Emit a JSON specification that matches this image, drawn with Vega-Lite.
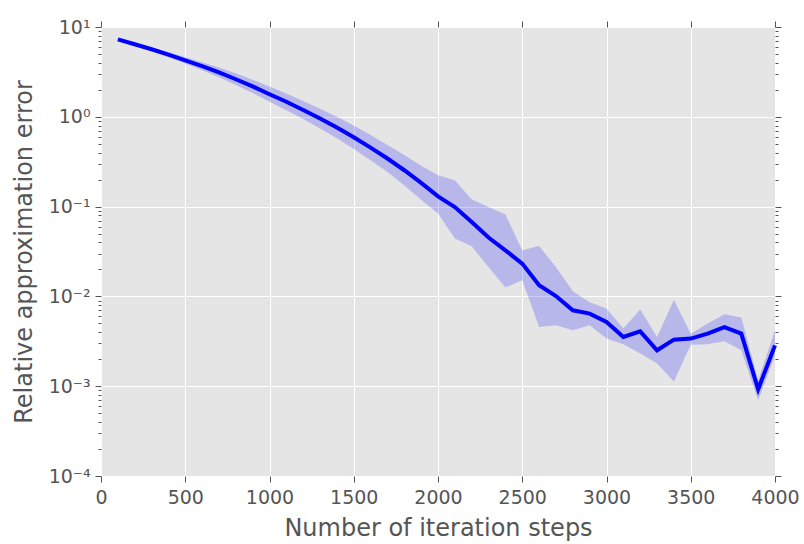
{
  "$schema": "https://vega.github.io/schema/vega-lite/v6.json",
  "width": 674,
  "height": 449,
  "autosize": {"type": "none"},
  "padding": {"left": 101, "top": 27, "right": 29, "bottom": 68},
  "background": "white",
  "config": {
    "view": {"fill": "#E5E5E5", "stroke": null},
    "axis": {
      "domain": false,
      "tickColor": "#555555",
      "tickWidth": 1,
      "labelColor": "#555555",
      "titleColor": "#555555",
      "labelFont": "DejaVu Sans",
      "titleFont": "DejaVu Sans",
      "labelFontSize": 19,
      "titleFontSize": 24,
      "titleFontWeight": "normal",
      "gridColor": "white",
      "gridWidth": 1,
      "labelFlush": false,
      "labelOverlap": false
    }
  },
  "data": {
    "values": [
      {"step": 100, "err": 7.29, "lo": 7.13, "hi": 7.46},
      {"step": 200, "err": 6.43, "lo": 6.21, "hi": 6.65},
      {"step": 300, "err": 5.65, "lo": 5.40, "hi": 5.92},
      {"step": 400, "err": 4.92, "lo": 4.59, "hi": 5.27},
      {"step": 500, "err": 4.26, "lo": 3.93, "hi": 4.61},
      {"step": 600, "err": 3.66, "lo": 3.30, "hi": 4.06},
      {"step": 700, "err": 3.12, "lo": 2.75, "hi": 3.54},
      {"step": 800, "err": 2.62, "lo": 2.26, "hi": 3.05},
      {"step": 900, "err": 2.18, "lo": 1.84, "hi": 2.59},
      {"step": 1000, "err": 1.78, "lo": 1.47, "hi": 2.17},
      {"step": 1100, "err": 1.47, "lo": 1.18, "hi": 1.82},
      {"step": 1200, "err": 1.19, "lo": 0.946, "hi": 1.50},
      {"step": 1300, "err": 0.957, "lo": 0.743, "hi": 1.23},
      {"step": 1400, "err": 0.760, "lo": 0.577, "hi": 1.00},
      {"step": 1500, "err": 0.592, "lo": 0.439, "hi": 0.798},
      {"step": 1600, "err": 0.454, "lo": 0.329, "hi": 0.627},
      {"step": 1700, "err": 0.343, "lo": 0.243, "hi": 0.484},
      {"step": 1800, "err": 0.254, "lo": 0.172, "hi": 0.376},
      {"step": 1900, "err": 0.184, "lo": 0.119, "hi": 0.285},
      {"step": 2000, "err": 0.130, "lo": 0.0836, "hi": 0.223},
      {"step": 2100, "err": 0.099, "lo": 0.0440, "hi": 0.196},
      {"step": 2200, "err": 0.0675, "lo": 0.0361, "hi": 0.120},
      {"step": 2300, "err": 0.0452, "lo": 0.0212, "hi": 0.0990},
      {"step": 2400, "err": 0.0326, "lo": 0.01253, "hi": 0.0815},
      {"step": 2500, "err": 0.0232, "lo": 0.0151, "hi": 0.0326},
      {"step": 2600, "err": 0.0133, "lo": 0.00456, "hi": 0.0364},
      {"step": 2700, "err": 0.0101, "lo": 0.00476, "hi": 0.0212},
      {"step": 2800, "err": 0.0070, "lo": 0.00419, "hi": 0.0114},
      {"step": 2900, "err": 0.00643, "lo": 0.00476, "hi": 0.00859},
      {"step": 3000, "err": 0.00519, "lo": 0.00339, "hi": 0.00731},
      {"step": 3100, "err": 0.00353, "lo": 0.00293, "hi": 0.00438},
      {"step": 3200, "err": 0.00408, "lo": 0.00231, "hi": 0.00713},
      {"step": 3300, "err": 0.00251, "lo": 0.00179, "hi": 0.00353},
      {"step": 3400, "err": 0.00330, "lo": 0.00113, "hi": 0.00920},
      {"step": 3500, "err": 0.00339, "lo": 0.00290, "hi": 0.00385},
      {"step": 3600, "err": 0.00385, "lo": 0.00293, "hi": 0.00498},
      {"step": 3700, "err": 0.00456, "lo": 0.00316, "hi": 0.00632},
      {"step": 3800, "err": 0.00385, "lo": 0.00251, "hi": 0.00581},
      {"step": 3900, "err": 0.000923, "lo": 0.000697, "hi": 0.00116},
      {"step": 4000, "err": 0.00285, "lo": 0.00221, "hi": 0.00419}
    ]
  },
  "layer": [
    {
      "mark": {"type": "area", "color": "#0000FF", "opacity": 0.2},
      "encoding": {
        "x": {
          "field": "step", "type": "quantitative",
          "scale": {"domain": [0, 4000], "nice": false, "zero": false},
          "axis": {
            "orient": "bottom",
            "values": [0, 500, 1000, 1500, 2000, 2500, 3000, 3500, 4000],
            "format": "d",
            "title": "Number of iteration steps",
            "tickSize": 6,
            "labelPadding": 6,
            "titlePadding": 9,
            "grid": true
          }
        },
        "y": {
          "field": "lo", "type": "quantitative",
          "scale": {"type": "log", "domain": [0.0001, 10], "nice": false},
          "axis": {
            "orient": "left",
            "title": "Relative approximation error",
            "values": [0.0001, 0.0002, 0.0003, 0.0004, 0.0005, 0.0006, 0.0007, 0.0008, 0.0009,
                       0.001, 0.002, 0.003, 0.004, 0.005, 0.006, 0.007, 0.008, 0.009,
                       0.01, 0.02, 0.03, 0.04, 0.05, 0.06, 0.07, 0.08, 0.09,
                       0.1, 0.2, 0.3, 0.4, 0.5, 0.6, 0.7, 0.8, 0.9,
                       1, 2, 3, 4, 5, 6, 7, 8, 9, 10],
            "labelExpr": "abs(log(datum.value)/LN10 - round(log(datum.value)/LN10)) < 0.001 ? {'1':'10¹','0':'10⁰','-1':'10⁻¹','-2':'10⁻²','-3':'10⁻³','-4':'10⁻⁴'}['' + round(log(datum.value)/LN10)] : ''",
            "tickSize": {"condition": {"test": "abs(log(datum.value)/LN10 - round(log(datum.value)/LN10)) < 0.001", "value": 6}, "value": 3},
            "gridOpacity": {"condition": {"test": "abs(log(datum.value)/LN10 - round(log(datum.value)/LN10)) < 0.001", "value": 1}, "value": 0},
            "grid": true,
            "labelPadding": 5,
            "titlePadding": 12
          }
        },
        "y2": {"field": "hi"}
      }
    },
    {
      "mark": {"type": "line", "color": "#0000FF", "strokeWidth": 4},
      "encoding": {
        "x": {
          "field": "step", "type": "quantitative",
          "scale": {"domain": [0, 4000], "nice": false, "zero": false},
          "axis": {
            "orient": "top",
            "values": [0, 500, 1000, 1500, 2000, 2500, 3000, 3500, 4000],
            "labels": false,
            "title": null,
            "tickSize": 6,
            "grid": false
          }
        },
        "y": {
          "field": "err", "type": "quantitative",
          "scale": {"type": "log", "domain": [0.0001, 10], "nice": false},
          "axis": {
            "orient": "right",
            "title": null,
            "labels": false,
            "grid": false,
            "values": [0.0001, 0.0002, 0.0003, 0.0004, 0.0005, 0.0006, 0.0007, 0.0008, 0.0009,
                       0.001, 0.002, 0.003, 0.004, 0.005, 0.006, 0.007, 0.008, 0.009,
                       0.01, 0.02, 0.03, 0.04, 0.05, 0.06, 0.07, 0.08, 0.09,
                       0.1, 0.2, 0.3, 0.4, 0.5, 0.6, 0.7, 0.8, 0.9,
                       1, 2, 3, 4, 5, 6, 7, 8, 9, 10],
            "tickSize": {"condition": {"test": "abs(log(datum.value)/LN10 - round(log(datum.value)/LN10)) < 0.001", "value": 6}, "value": 3}
          }
        }
      }
    }
  ],
  "resolve": {"axis": {"x": "independent", "y": "independent"}}
}
